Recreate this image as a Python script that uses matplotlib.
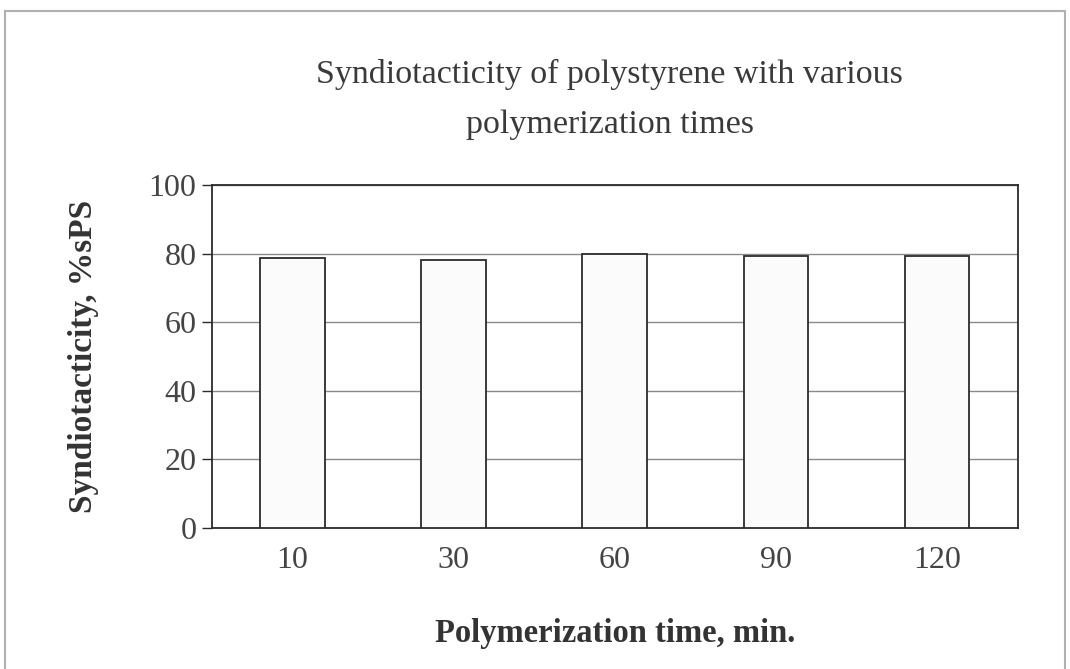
import numpy as np
import matplotlib
matplotlib.use('agg')
import matplotlib.pyplot as plt
from matplotlib.patches import Rectangle

plt.rcParams['font.family'] = ['Liberation Serif', 'DejaVu Serif']

# polymerization time (min) and syndiotacticity (%sPS)
times = ['10', '30', '60', '90', '120']
syndio = [78.8, 78.1, 80.0, 79.4, 79.4]
yticks = [0, 20, 40, 60, 80, 100]

ink = '#2b2b2b'

fig = plt.figure(figsize=(10.7, 6.69), dpi=100)
ax = fig.add_axes([0.198, 0.211, 0.753, 0.5125])

x = np.arange(len(times))
ax.bar(x, syndio, width=0.4, color='#fbfbfb', edgecolor=ink, linewidth=1.3, zorder=3)

ax.set_xlim(-0.5, len(times) - 0.5)
ax.set_ylim(0, 100)
ax.set_yticks(yticks)
ax.set_xticks(x)
ax.set_xticklabels(times)
ax.yaxis.grid(True, color='#8a8a8a', linewidth=1.0, zorder=0)
ax.set_axisbelow(True)

for s in ax.spines.values():
    s.set_color(ink)
    s.set_linewidth(1.3)

ax.tick_params(axis='y', direction='out', length=7, width=1.0, color=ink,
               labelsize=23, labelcolor='#444444', pad=4)
ax.tick_params(axis='x', length=0, labelsize=23, labelcolor='#444444', pad=13)

ax.set_ylabel('Syndiotacticity, %sPS', fontsize=24, fontweight='bold',
              color='#333333', labelpad=36)
ax.set_xlabel('Polymerization time, min.', fontsize=23.5, fontweight='bold',
              color='#333333', labelpad=31)

fig.text(0.57, 0.888, 'Syndiotacticity of polystyrene with various',
         ha='center', va='center', fontsize=24.5, color='#3a3a3a')
fig.text(0.57, 0.813, 'polymerization times',
         ha='center', va='center', fontsize=24.5, color='#3a3a3a')

# thin frame around the chart area
fig.patches.append(Rectangle((0.005, -0.01), 0.99, 0.994, transform=fig.transFigure,
                             fill=False, edgecolor='#b0b0b0', linewidth=1.5))

fig.savefig('out.png', dpi=100)
